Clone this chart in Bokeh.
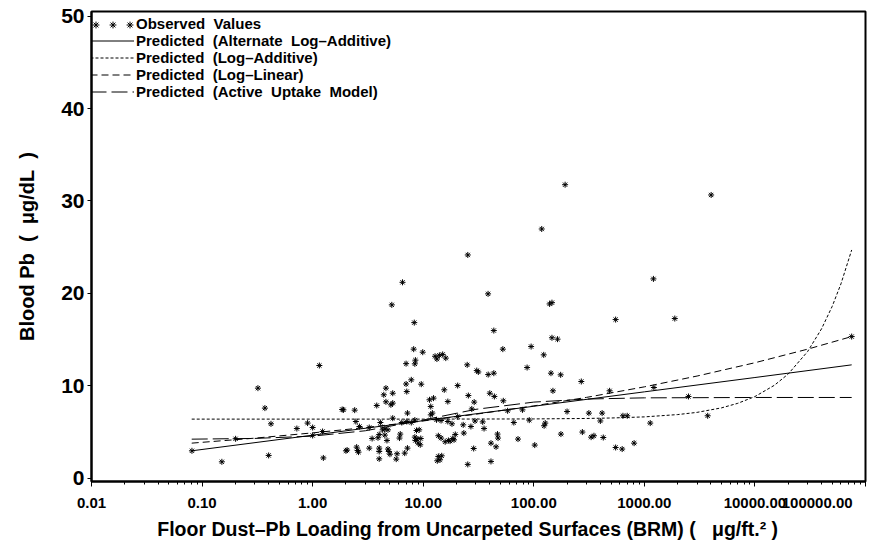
from bokeh.plotting import figure
from bokeh.models import FixedTicker, Legend, LegendItem, Range1d
from bokeh.embed import file_html
from bokeh.resources import INLINE

# Observed floor dust-Pb loading (ug/ft^2) and blood Pb (ug/dL)
dust_obs = [
    0.081, 0.151, 0.201, 0.32, 0.37, 0.40, 0.42, 0.72, 0.90, 1.00, 1.00, 1.15, 1.23, 1.25,
    1.85, 1.90, 2.0, 2.05, 2.4, 2.46, 2.5, 2.55, 2.6, 2.65, 3.25, 3.25, 3.45, 3.8, 3.9,
    4.0, 4.0, 4.0, 4.0, 4.1, 4.3, 4.4, 4.5, 4.5, 4.6, 4.6, 4.7, 4.8, 4.8, 4.9, 5.0, 5.1,
    5.2, 5.3, 5.3, 5.3, 5.7, 5.8, 6.1, 6.2, 6.4, 6.5, 6.8, 7.0, 7.0, 7.1, 7.1, 7.2, 7.2,
    7.8, 7.8, 8.2, 8.3, 8.4, 8.4, 8.4, 8.5, 8.5, 8.7, 8.8, 9.0, 9.2, 9.4, 9.5, 9.6, 9.9,
    11.4, 11.7, 11.7, 12.1, 12.4, 12.8, 13.2, 13.3, 13.4, 13.7, 13.7, 14.0, 14.2, 14.5,
    14.5, 14.7, 15.0, 15.5, 15.8, 16.0, 16.7, 16.7, 16.9, 17.5, 18.2, 18.5, 19.0, 19.5,
    20.5, 20.5, 23.0, 23.3, 25.3, 25.0, 25.3, 25.6, 27.0, 27.5, 28.6, 28.9, 29.4, 30.5,
    31.5, 34.5, 35.5, 38.6, 38.7, 40.0, 41.0, 41.0, 43.5, 43.5, 44.0, 45.6, 47.0, 47.5,
    52.5, 53.0, 58.0, 66.0, 72.0, 79.0, 87.0, 91.0, 94.6, 102.0, 118.0, 123.0, 124.0,
    127.0, 139.0, 146.0, 143.0, 146.0, 149.0, 164.0, 175.0, 176.0, 192.0, 200.0, 269.0,
    275.0, 315.0, 330.0, 350.0, 400.0, 415.0, 425.0, 485.0, 550.0, 550.0, 630.0, 640.0,
    700.0, 808.0, 1130.0, 1208.0, 1220.0, 1885.0, 2506.0, 3740.0, 4018.0, 75000.0,
]
pbb_obs = [
    2.97, 1.78, 4.27, 9.75, 7.59, 2.47, 5.89, 5.38, 5.97, 5.49, 4.63, 12.2, 5.06, 2.2,
    7.44, 7.40, 2.97, 3.05, 7.37, 6.14, 3.37, 3.0, 2.83, 5.6, 5.49, 3.26, 4.3, 7.87, 4.38,
    4.74, 3.26, 2.9, 2.1, 6.03, 5.24, 9.03, 5.32, 4.67, 9.75, 8.27, 4.09, 5.24, 3.16, 2.9,
    2.6, 7.95, 18.76, 9.2, 8.13, 6.5, 2.07, 2.65, 4.35, 4.78, 6.03, 21.2, 2.72, 10.2, 12.4,
    9.38, 6.14, 7.05, 3.26, 10.65, 6.03, 13.97, 16.84, 12.38, 6.3, 4.45, 12.78, 4.09, 5.17,
    4.24, 3.8, 5.24, 3.62, 4.3, 10.18, 13.64, 8.49, 7.76, 6.86, 7.05, 8.67, 13.2, 6.32,
    12.9, 1.89, 2.36, 4.6, 13.3, 2.0, 6.25, 4.35, 2.43, 13.4, 9.57, 3.95, 13.0, 8.3, 6.14,
    4.09, 4.02, 5.89, 4.3, 4.16, 4.74, 10.03, 6.68, 5.78, 4.89, 24.16, 12.27, 1.5, 8.95,
    5.6, 7.5, 3.22, 8.24, 6.2, 11.65, 11.5, 6.1, 5.38, 19.95, 11.22, 9.2, 3.8, 1.82, 15.98,
    11.37, 8.85, 3.4, 4.78, 4.35, 13.97, 8.38, 7.3, 6.03, 4.24, 7.4, 11.98, 6.29, 14.25,
    3.59, 26.97, 13.35, 5.68, 5.97, 18.86, 19.0, 11.37, 15.2, 9.46, 15.05, 11.19, 4.78,
    31.76, 7.22, 10.47, 5.0, 7.05, 4.45, 4.6, 6.2, 7.05, 4.41, 9.46, 17.17, 3.33, 3.16,
    6.76, 6.76, 3.8, 5.97, 21.57, 9.82, 17.28, 8.85, 6.76, 30.65, 15.33,
]

# Model predictions
alt_log_add_x = [0.0806, 1, 10, 100, 1000, 10000, 75000]
alt_log_add_y = [2.97, 4.66, 6.23, 7.79, 9.35, 10.90, 12.27]

log_add_x = [0.0806, 10, 100, 300, 500, 1000, 2000, 3000, 5000, 7000, 10000, 15000,
             20000, 30000, 40000, 50000, 60000, 75000]
log_add_y = [6.40, 6.40, 6.42, 6.47, 6.52, 6.64, 6.89, 7.13, 7.62, 8.11, 8.84, 10.06,
             11.28, 13.72, 16.16, 18.60, 21.04, 24.70]

log_lin_x = [0.0806, 0.3, 1, 3, 10, 30, 100, 300, 1000, 3000, 10000, 30000, 75000]
log_lin_y = [3.80, 4.34, 4.91, 5.49, 6.20, 6.93, 7.83, 8.75, 9.89, 11.06, 12.50, 13.97, 15.33]

uptake_x = [0.0806, 0.3, 1, 3, 10, 30, 100, 300, 1000, 10000, 75000]
uptake_y = [4.23, 4.31, 4.56, 5.14, 6.30, 7.46, 8.24, 8.57, 8.70, 8.74, 8.74]

NB = "\u00a0"
series_labels = [
    "Observed" + NB + " Values",
    "Predicted" + NB + " (Alternate" + NB + " Log\u2013Additive)",
    "Predicted" + NB + " (Log\u2013Additive)",
    "Predicted" + NB + " (Log\u2013Linear)",
    "Predicted" + NB + " (Active" + NB + " Uptake" + NB + " Model)",
]

x_ticks = [0.01, 0.1, 1, 10, 100, 1000, 10000, 100000]
x_tick_labels = ["0.01", "0.10", "1.00", "10.00", "100.00", "1000.00", "10000.00", "100000.00"]
y_ticks = [0, 10, 20, 30, 40, 50]

FONT = "Liberation Sans"

p = figure(
    width=873, height=542,
    x_axis_type="log",
    x_range=Range1d(0.01, 100000), y_range=Range1d(-0.35, 50.5),
    output_backend="svg", toolbar_location=None,
    min_border_left=91, min_border_right=8, min_border_top=11, min_border_bottom=60,
)
p.grid.visible = False
p.background_fill_color = "white"
p.border_fill_color = "white"
p.outline_line_color = "black"
p.outline_line_width = 2

# axes
minor = [m * 10.0 ** e for e in range(-2, 5) for m in range(2, 10)]
p.xaxis.ticker = FixedTicker(ticks=x_ticks, minor_ticks=minor)
overrides = {t: lab for t, lab in zip(x_ticks, x_tick_labels)}
# the last label sits at the right edge: pad it so its visible part stays on the canvas
overrides[x_ticks[-1]] = x_tick_labels[-1] + NB * 5
p.xaxis.major_label_overrides = overrides
p.yaxis.ticker = FixedTicker(ticks=y_ticks)

for ax in (p.xaxis[0], p.yaxis[0]):
    ax.axis_line_width = 2
    ax.axis_line_color = "black"
    ax.major_tick_in = 0
    ax.minor_tick_in = 0
    ax.major_tick_line_color = "black"
    ax.minor_tick_line_color = "black"
    ax.major_label_text_font = FONT
    ax.major_label_text_font_style = "bold"
    ax.major_label_text_color = "black"
    ax.axis_label_text_font = FONT
    ax.axis_label_text_font_style = "bold"
    ax.axis_label_text_color = "black"
    ax.axis_label_text_font_size = "20px"

p.xaxis.major_tick_out = 5
p.xaxis.minor_tick_out = 3
p.xaxis.major_label_text_font_size = "15px"
p.xaxis.major_label_standoff = 7
p.xaxis.axis_label = ("Floor Dust\u2013Pb Loading from Uncarpeted Surfaces (BRM) ("
                      + NB + NB + " \u03bcg/ft.\u00b2 )" + NB * 4)
p.xaxis.axis_label_text_font_size = "19.5px"
p.xaxis.axis_label_standoff = 4

p.yaxis.major_tick_out = 4
p.yaxis.minor_tick_out = 0
p.yaxis.major_label_text_font_size = "21px"
p.yaxis.major_label_standoff = 3
p.yaxis.axis_label = "Blood Pb" + NB + " (" + NB + " \u03bcg/dL" + NB + " )"
p.yaxis.axis_label_standoff = 20

# data and model curves
r_obs = p.scatter(dust_obs, pbb_obs, marker="asterisk", size=6, line_color="black", line_width=1)
r_alt = p.line(alt_log_add_x, alt_log_add_y, line_color="black", line_width=1)
r_add = p.line(log_add_x, log_add_y, line_color="black", line_width=1, line_dash="3 2")
r_lin = p.line(log_lin_x, log_lin_y, line_color="black", line_width=1, line_dash="7 4")
r_upt = p.line(uptake_x, uptake_y, line_color="black", line_width=1, line_dash="16 5")
r_blank = p.line(x=[], y=[], line_alpha=0)

legend_style = dict(
    border_line_alpha=0, background_fill_alpha=0, padding=0, margin=0, spacing=0,
    glyph_height=17, label_height=17,
    label_text_font=FONT, label_text_font_style="bold", label_text_font_size="15px",
    label_text_color="black",
)

legend = Legend(
    items=[
        LegendItem(label=series_labels[0], renderers=[r_blank]),
        LegendItem(label=series_labels[1], renderers=[r_alt]),
        LegendItem(label=series_labels[2], renderers=[r_add]),
        LegendItem(label=series_labels[3], renderers=[r_lin]),
        LegendItem(label=series_labels[4], renderers=[r_upt]),
    ],
    location=(-1, 381), glyph_width=44, label_standoff=2, **legend_style,
)
p.add_layout(legend)

# three asterisks as the symbol for the observed values
stars = Legend(
    items=[LegendItem(label="", renderers=[r_obs]) for _ in range(3)],
    orientation="horizontal", location=(-4, 448), glyph_width=17, label_standoff=0,
    label_width=0, **legend_style,
)
p.add_layout(stars)

open("out.html", "w").write(file_html(p, INLINE))
